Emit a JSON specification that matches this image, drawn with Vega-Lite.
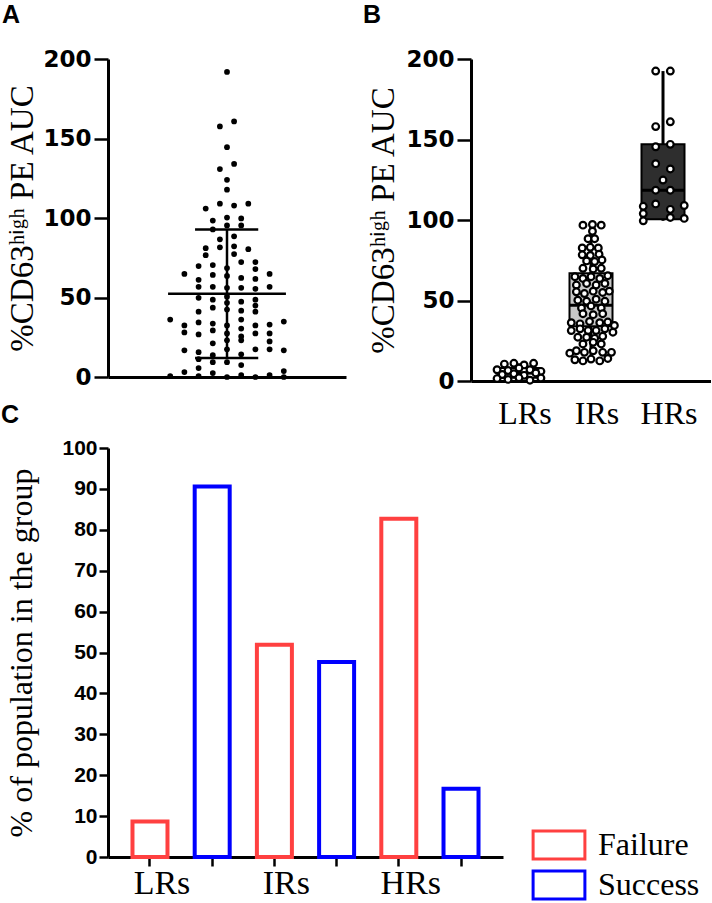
{
  "$schema": "https://vega.github.io/schema/vega-lite/v6.json",
  "background": "white",
  "padding": {"left": 0, "top": 3, "right": 0, "bottom": 0},
  "datasets": {
    "panelA": [
      {"slot":0,"auc":191.9},{"slot":-1,"auc":157.6},{"slot":1,"auc":160.7},{"slot":0,"auc":144.5},{"slot":-1,"auc":130.8},{"slot":1,"auc":134.0},{"slot":0,"auc":124.0},{"slot":0,"auc":117.8},{"slot":-3,"auc":105.9},{"slot":-1,"auc":109.0},{"slot":1,"auc":107.8},{"slot":3,"auc":109.0},{"slot":-2,"auc":98.4},{"slot":0,"auc":100.3},{"slot":2,"auc":99.7},{"slot":-2,"auc":92.8},{"slot":0,"auc":95.3},{"slot":2,"auc":95.3},{"slot":-1,"auc":86.6},{"slot":1,"auc":88.5},{"slot":-3,"auc":81.0},{"slot":-1,"auc":81.6},{"slot":1,"auc":82.2},{"slot":3,"auc":80.4},{"slot":-3,"auc":76.6},{"slot":1,"auc":77.3},{"slot":2,"auc":72.3},{"slot":4,"auc":72.3},{"slot":-4,"auc":69.8},{"slot":-2,"auc":70.4},{"slot":0,"auc":68.5},{"slot":4,"auc":67.9},{"slot":-6,"auc":64.8},{"slot":-2,"auc":64.2},{"slot":0,"auc":63.6},{"slot":6,"auc":64.8},{"slot":-4,"auc":61.1},{"slot":2,"auc":62.3},{"slot":4,"auc":61.7},{"slot":-4,"auc":56.7},{"slot":-2,"auc":56.7},{"slot":0,"auc":56.1},{"slot":2,"auc":56.1},{"slot":4,"auc":55.5},{"slot":6,"auc":56.7},{"slot":-4,"auc":49.8},{"slot":-2,"auc":48.6},{"slot":0,"auc":50.5},{"slot":2,"auc":47.4},{"slot":4,"auc":48.6},{"slot":-2,"auc":43.6},{"slot":0,"auc":46.7},{"slot":0,"auc":42.4},{"slot":4,"auc":44.9},{"slot":4,"auc":41.1},{"slot":-4,"auc":41.1},{"slot":2,"auc":41.7},{"slot":-8,"auc":36.1},{"slot":2,"auc":36.1},{"slot":8,"auc":34.9},{"slot":-6,"auc":32.4},{"slot":-4,"auc":34.3},{"slot":-2,"auc":33.6},{"slot":0,"auc":32.4},{"slot":2,"auc":30.5},{"slot":4,"auc":32.4},{"slot":6,"auc":33.0},{"slot":-6,"auc":28.0},{"slot":-4,"auc":26.8},{"slot":-2,"auc":29.3},{"slot":0,"auc":27.4},{"slot":2,"auc":25.5},{"slot":4,"auc":27.4},{"slot":6,"auc":27.4},{"slot":-2,"auc":21.2},{"slot":0,"auc":23.1},{"slot":2,"auc":23.1},{"slot":6,"auc":22.4},{"slot":-6,"auc":16.8},{"slot":-4,"auc":15.6},{"slot":-2,"auc":13.7},{"slot":0,"auc":17.4},{"slot":2,"auc":14.3},{"slot":4,"auc":17.4},{"slot":6,"auc":17.4},{"slot":8,"auc":16.8},{"slot":-4,"auc":11.2},{"slot":-2,"auc":9.3},{"slot":0,"auc":9.3},{"slot":-4,"auc":5.6},{"slot":2,"auc":7.5},{"slot":-6,"auc":3.1},{"slot":-2,"auc":2.5},{"slot":8,"auc":3.7},{"slot":-8,"auc":0.6},{"slot":-4,"auc":0.6},{"slot":0,"auc":0},{"slot":2,"auc":1.2},{"slot":4,"auc":0},{"slot":6,"auc":1.2},{"slot":8,"auc":0}
    ],
    "statsA": [{"mean": 52.4, "lo": 12.0, "hi": 92.8}],
    "panelB": [
      {"group":"LRs","slot":-2,"auc":10.5},{"group":"LRs","slot":-0.7,"auc":11},{"group":"LRs","slot":0.7,"auc":10},{"group":"LRs","slot":2,"auc":11},{"group":"LRs","slot":-3,"auc":7},{"group":"LRs","slot":-1.5,"auc":6.5},{"group":"LRs","slot":0,"auc":8},{"group":"LRs","slot":1.5,"auc":7},{"group":"LRs","slot":3,"auc":6},{"group":"LRs","slot":-2.3,"auc":4},{"group":"LRs","slot":-0.7,"auc":4.5},{"group":"LRs","slot":0.7,"auc":3.5},{"group":"LRs","slot":2.3,"auc":5},{"group":"LRs","slot":-3,"auc":1.5},{"group":"LRs","slot":-1.5,"auc":1},{"group":"LRs","slot":0,"auc":2},{"group":"LRs","slot":1.5,"auc":0.5},{"group":"LRs","slot":3,"auc":1.8},
      {"group":"IRs","slot":-1.1,"auc":96.8},{"group":"IRs","slot":0.2,"auc":97.2},{"group":"IRs","slot":1.4,"auc":96.8},{"group":"IRs","slot":0.2,"auc":93.0},{"group":"IRs","slot":-0.4,"auc":88.4},{"group":"IRs","slot":0.5,"auc":88.4},{"group":"IRs","slot":-1.2,"auc":82.6},{"group":"IRs","slot":-0.1,"auc":83.0},{"group":"IRs","slot":1.0,"auc":82.6},{"group":"IRs","slot":-1.2,"auc":78.4},{"group":"IRs","slot":-0.1,"auc":78.0},{"group":"IRs","slot":1.1,"auc":78.8},{"group":"IRs","slot":-0.6,"auc":74.6},{"group":"IRs","slot":0.5,"auc":74.2},{"group":"IRs","slot":1.5,"auc":75.2},{"group":"IRs","slot":-1.1,"auc":70.0},{"group":"IRs","slot":0.3,"auc":69.6},{"group":"IRs","slot":1.4,"auc":70.0},{"group":"IRs","slot":-2.2,"auc":64.8},{"group":"IRs","slot":-1.1,"auc":63.7},{"group":"IRs","slot":0,"auc":64.8},{"group":"IRs","slot":1.2,"auc":63.7},{"group":"IRs","slot":2.3,"auc":65.4},{"group":"IRs","slot":-2,"auc":59.6},{"group":"IRs","slot":-0.6,"auc":60.6},{"group":"IRs","slot":0.7,"auc":59.6},{"group":"IRs","slot":1.9,"auc":60.6},{"group":"IRs","slot":-2,"auc":55.4},{"group":"IRs","slot":-0.9,"auc":54.3},{"group":"IRs","slot":0.3,"auc":55.8},{"group":"IRs","slot":1.6,"auc":55.0},{"group":"IRs","slot":2.5,"auc":55.8},{"group":"IRs","slot":-1.8,"auc":50.2},{"group":"IRs","slot":-0.6,"auc":49.5},{"group":"IRs","slot":0.7,"auc":50.8},{"group":"IRs","slot":1.9,"auc":49.5},{"group":"IRs","slot":-1.3,"auc":45.3},{"group":"IRs","slot":0,"auc":46.6},{"group":"IRs","slot":1.4,"auc":45.3},{"group":"IRs","slot":-1.1,"auc":41.8},{"group":"IRs","slot":0.3,"auc":41.2},{"group":"IRs","slot":1.6,"auc":41.8},{"group":"IRs","slot":-2.7,"auc":36.2},{"group":"IRs","slot":-1.5,"auc":35.5},{"group":"IRs","slot":-0.2,"auc":37.0},{"group":"IRs","slot":1.2,"auc":36.2},{"group":"IRs","slot":2.3,"auc":36.6},{"group":"IRs","slot":3.2,"auc":34.5},{"group":"IRs","slot":-2.7,"auc":31.3},{"group":"IRs","slot":-1.5,"auc":32.4},{"group":"IRs","slot":-0.4,"auc":31.3},{"group":"IRs","slot":0.7,"auc":31.3},{"group":"IRs","slot":1.9,"auc":32.4},{"group":"IRs","slot":3.0,"auc":30.3},{"group":"IRs","slot":-1.8,"auc":27.2},{"group":"IRs","slot":-0.6,"auc":27.2},{"group":"IRs","slot":0.5,"auc":26.5},{"group":"IRs","slot":1.6,"auc":27.8},{"group":"IRs","slot":-1.1,"auc":23.0},{"group":"IRs","slot":0.3,"auc":24.0},{"group":"IRs","slot":1.4,"auc":23.0},{"group":"IRs","slot":-2.9,"auc":17.3},{"group":"IRs","slot":-2,"auc":18.8},{"group":"IRs","slot":-0.9,"auc":17.8},{"group":"IRs","slot":0.3,"auc":18.8},{"group":"IRs","slot":1.6,"auc":17.8},{"group":"IRs","slot":2.8,"auc":17.8},{"group":"IRs","slot":-2.2,"auc":13.2},{"group":"IRs","slot":-1.1,"auc":12.5},{"group":"IRs","slot":0,"auc":13.6},{"group":"IRs","slot":1.2,"auc":12.5},{"group":"IRs","slot":2.3,"auc":14.0},
      {"group":"HRs","slot":-1,"auc":192.5},{"group":"HRs","slot":1,"auc":192.5},{"group":"HRs","slot":-1,"auc":158},{"group":"HRs","slot":1,"auc":161},{"group":"HRs","slot":-1,"auc":145.5},{"group":"HRs","slot":1,"auc":147},{"group":"HRs","slot":-1,"auc":135},{"group":"HRs","slot":1,"auc":131.7},{"group":"HRs","slot":0,"auc":124.8},{"group":"HRs","slot":-1,"auc":118.5},{"group":"HRs","slot":1,"auc":118.5},{"group":"HRs","slot":-2.7,"auc":108.5},{"group":"HRs","slot":-1,"auc":110},{"group":"HRs","slot":2.9,"auc":109},{"group":"HRs","slot":-2.7,"auc":104},{"group":"HRs","slot":1,"auc":106.6},{"group":"HRs","slot":-2.7,"auc":99.5},{"group":"HRs","slot":1,"auc":101.6},{"group":"HRs","slot":2.9,"auc":101}
    ],
    "boxB": [
      {"group":"LRs","min":0.5,"q1":2,"median":5,"q3":8,"max":11},
      {"group":"IRs","min":11.3,"q1":34,"median":47,"q3":67,"max":97.2},
      {"group":"HRs","min":99.5,"q1":100.5,"median":118.5,"q3":147,"max":192.5}
    ],
    "panelC": [
      {"bar":"LRs-Failure","group":"LRs","outcome":"Failure","pct":8.7},
      {"bar":"LRs-Success","group":"LRs","outcome":"Success","pct":90.6},
      {"bar":"IRs-Failure","group":"IRs","outcome":"Failure","pct":51.9},
      {"bar":"IRs-Success","group":"IRs","outcome":"Success","pct":47.7},
      {"bar":"HRs-Failure","group":"HRs","outcome":"Failure","pct":82.7},
      {"bar":"HRs-Success","group":"HRs","outcome":"Success","pct":16.7}
    ]
  },
  "spacing": -26,
  "align": "none",
  "resolve": {"legend": {"stroke": "independent"}},
  "vconcat": [
    {
      "spacing": 16,
      "align": "none",
      "hconcat": [
        {
          "title": {"text": "A", "anchor": "start", "frame": "bounds", "font": "Liberation Sans", "fontSize": 25, "fontWeight": "bold", "offset": 20, "dx": -5, "color": "black"},
          "width": 238,
          "height": 318,
          "layer": [
            {
              "data": {"name": "panelA"},
              "mark": {"type": "circle", "color": "black", "size": 33, "opacity": 1},
              "encoding": {
                "x": {"field": "slot", "type": "quantitative", "scale": {"domain": [-16.76, 16.76], "nice": false, "zero": false}, "axis": {"labels": false, "ticks": false, "title": null, "grid": false}},
                "y": {"field": "auc", "type": "quantitative", "scale": {"domain": [0, 200], "nice": false},
                  "axis": {"values": [0, 50, 100, 150, 200], "tickSize": 14, "labelFont": "DejaVu Sans", "labelFontSize": 23, "labelFontWeight": "bold", "labelPadding": 3, "labelFlush": false, "labelOverlap": false, "title": "%CD63ʰⁱᵍʰ PE AUC", "titleFont": "Liberation Serif", "titleFontSize": 33, "titleFontWeight": "normal", "titlePadding": 3}}
              }
            },
            {
              "data": {"name": "statsA"},
              "mark": {"type": "rule", "color": "black", "strokeWidth": 2.5},
              "encoding": {"x": {"datum": -8.3}, "x2": {"datum": 8.3}, "y": {"field": "mean", "type": "quantitative"}}
            },
            {
              "data": {"name": "statsA"},
              "mark": {"type": "rule", "color": "black", "strokeWidth": 2.5},
              "encoding": {"x": {"datum": 0}, "y": {"field": "lo", "type": "quantitative"}, "y2": {"field": "hi"}}
            },
            {
              "data": {"name": "statsA"},
              "mark": {"type": "rule", "color": "black", "strokeWidth": 2.5},
              "encoding": {"x": {"datum": -4.5}, "x2": {"datum": 4.4}, "y": {"field": "lo", "type": "quantitative"}}
            },
            {
              "data": {"name": "statsA"},
              "mark": {"type": "rule", "color": "black", "strokeWidth": 2.5},
              "encoding": {"x": {"datum": -4.5}, "x2": {"datum": 4.4}, "y": {"field": "hi", "type": "quantitative"}}
            }
          ]
        },
        {
          "title": {"text": "B", "anchor": "start", "frame": "bounds", "font": "Liberation Sans", "fontSize": 25, "fontWeight": "bold", "offset": 20, "dx": -5, "color": "black"},
          "width": 240,
          "height": 322,
          "resolve": {"scale": {"x": "independent"}, "axis": {"x": "independent"}},
          "layer": [
            {
              "data": {"name": "boxB"},
              "encoding": {
                "x": {"field": "group", "type": "nominal", "sort": ["LRs", "IRs", "HRs"], "scale": {"type": "band", "paddingInner": 0.389, "paddingOuter": 0.361},
                  "axis": {"title": null, "ticks": false, "labelAngle": 0, "labelFont": "Liberation Serif", "labelFontSize": 32, "labelPadding": 17, "labelOffset": 6}}
              },
              "layer": [
                {
                  "mark": {"type": "rule", "color": "black", "strokeWidth": 3},
                  "encoding": {"y": {"field": "min", "type": "quantitative", "scale": {"domain": [0, 200], "nice": false}}, "y2": {"field": "max"}}
                },
                {
                  "mark": {"type": "bar", "stroke": "black", "strokeWidth": 2, "width": 43},
                  "encoding": {
                    "y": {"field": "q1", "type": "quantitative"}, "y2": {"field": "q3"},
                    "fill": {"field": "group", "type": "nominal", "scale": {"domain": ["LRs", "IRs", "HRs"], "range": ["#ffffff", "#c8c8c8", "#2e2e2e"]}, "legend": null}
                  }
                },
                {
                  "mark": {"type": "tick", "color": "black", "opacity": 1, "thickness": 3, "size": 43},
                  "encoding": {"y": {"field": "median", "type": "quantitative"}}
                }
              ]
            },
            {
              "data": {"name": "panelB"},
              "mark": {"type": "point", "shape": "circle", "filled": false, "fill": "white", "fillOpacity": 1, "stroke": "black", "strokeWidth": 2.2, "size": 45, "opacity": 1},
              "encoding": {
                "x": {"field": "group", "type": "nominal", "sort": ["LRs", "IRs", "HRs"], "scale": {"type": "band", "paddingInner": 0.389, "paddingOuter": 0.361}, "axis": null},
                "xOffset": {"field": "slot", "type": "quantitative", "scale": {"domain": [-3.01, 3.01], "nice": false, "zero": false}},
                "y": {"field": "auc", "type": "quantitative", "scale": {"domain": [0, 200], "nice": false},
                  "axis": {"values": [0, 50, 100, 150, 200], "tickSize": 14, "labelFont": "DejaVu Sans", "labelFontSize": 23, "labelFontWeight": "bold", "labelPadding": 3, "labelFlush": false, "labelOverlap": false, "title": "%CD63ʰⁱᵍʰ PE AUC", "titleFont": "Liberation Serif", "titleFontSize": 33, "titleFontWeight": "normal", "titlePadding": 5}}
              }
            }
          ]
        }
      ]
    },
    {
      "title": {"text": "C", "anchor": "start", "frame": "bounds", "font": "Liberation Sans", "fontSize": 25, "fontWeight": "bold", "offset": 9, "dx": -5, "color": "black"},
      "width": 395,
      "height": 409,
      "data": {"name": "panelC"},
      "mark": {"type": "bar", "fill": "white", "strokeWidth": 4, "width": 35},
      "encoding": {
        "x": {"field": "bar", "type": "nominal", "sort": ["LRs-Failure", "LRs-Success", "IRs-Failure", "IRs-Success", "HRs-Failure", "HRs-Success"], "scale": {"paddingInner": 0.37, "paddingOuter": 0.36},
          "axis": {"title": null, "ticks": true, "tickSize": 9, "labelAngle": 0, "labelFont": "Liberation Serif", "labelFontSize": 34, "labelPadding": 0, "labelOffset": 12,
            "labelExpr": "indexof(datum.value, 'Failure') >= 0 ? split(datum.value, '-')[0] : ''"}},
        "y": {"field": "pct", "type": "quantitative", "scale": {"domain": [0, 100], "nice": false},
          "axis": {"values": [0, 10, 20, 30, 40, 50, 60, 70, 80, 90, 100], "tickSize": 9, "labelFont": "Liberation Sans", "labelFontSize": 21, "labelFontWeight": "bold", "labelPadding": 2, "labelFlush": false, "labelOverlap": false, "title": "% of population in the group", "titleFont": "Liberation Serif", "titleFontSize": 32, "titleFontWeight": "normal", "titlePadding": 23}},
        "stroke": {"field": "outcome", "type": "nominal", "scale": {"domain": ["Failure", "Success"], "range": ["#ff4040", "#0000ff"]},
          "legend": {"orient": "none", "legendX": 435, "legendY": 381, "title": null, "symbolType": "M-1.85,-1L1.85,-1L1.85,1L-1.85,1Z", "symbolSize": 784, "symbolStrokeWidth": 3, "symbolFillColor": "white", "labelFont": "Liberation Serif", "labelFontSize": 32, "labelColor": "black", "labelOffset": 23, "rowPadding": 0}}
      }
    }
  ],
  "config": {
    "view": {"stroke": null},
    "axis": {"domainColor": "black", "domainWidth": 3, "tickColor": "black", "tickWidth": 2.5, "labelColor": "black", "titleColor": "black", "grid": false}
  }
}
